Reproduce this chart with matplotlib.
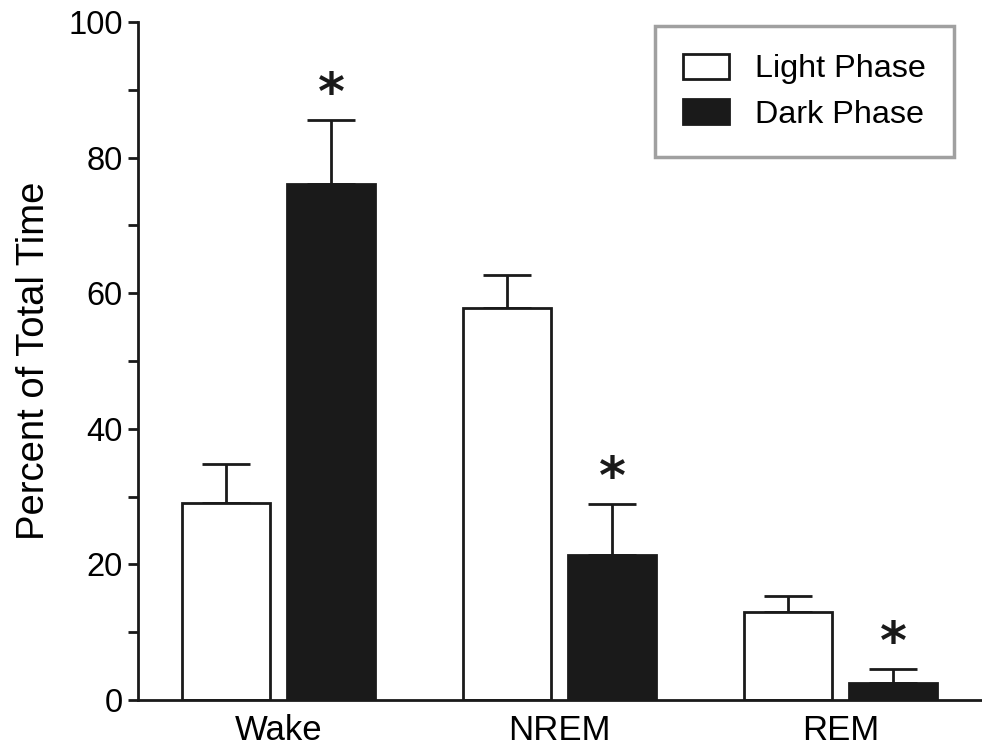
import matplotlib
matplotlib.use("Agg")
import matplotlib.pyplot as plt
import numpy as np
from matplotlib.patches import Patch

plt.rcParams['font.family'] = ['Liberation Sans', 'DejaVu Sans']

categories = ["Wake", "NREM", "REM"]
light_vals = [29.0, 57.8, 13.0]
light_err = [5.8, 4.9, 2.3]
dark_vals = [76.1, 21.4, 2.5]
dark_err = [9.4, 7.5, 2.1]
dark_sig = [True, True, True]

fig = plt.figure(figsize=(9.82, 7.49), dpi=100)
ax = fig.add_axes([138/982, 1-700/749, 843/982, (700-22)/749])

x = np.arange(len(categories))
w = 0.313
off = 0.188
lw = 2.0
ink = '#1a1a1a'
ax.bar(x - off, light_vals, w, color='white', edgecolor=ink, linewidth=lw, zorder=2)
ax.bar(x + off, dark_vals, w, color=ink, edgecolor=ink, linewidth=lw, zorder=2)
ax.errorbar(x - off, light_vals, yerr=[np.zeros(3), light_err], fmt='none',
            ecolor=ink, elinewidth=lw, capsize=17, capthick=lw, zorder=1)
ax.errorbar(x + off, dark_vals, yerr=[np.zeros(3), dark_err], fmt='none',
            ecolor=ink, elinewidth=lw, capsize=17, capthick=lw, zorder=1)

for xi, v, e, s in zip(x + off, dark_vals, dark_err, dark_sig):
    if s:
        ax.text(xi, v + e + 1.6, '*', ha='center', va='baseline', fontsize=37,
                color=ink, family='DejaVu Sans', fontweight='bold')

ax.set_xlim(-0.5, 2.5)
ax.set_ylim(0, 100)
ax.set_yticks([0, 20, 40, 60, 80, 100])
ax.set_yticks([10, 30, 50, 70, 90], minor=True)
ax.set_xticks(x)
ax.set_xticklabels(categories)
ax.tick_params(axis='y', which='major', length=7, width=lw, labelsize=23.5, pad=4, color=ink)
ax.tick_params(axis='y', which='minor', length=7, width=lw, color=ink)
ax.tick_params(axis='x', length=0, labelsize=25, pad=10)
ax.set_ylabel("Percent of Total Time", fontsize=27.5, labelpad=12)
for sp in ['top', 'right']:
    ax.spines[sp].set_visible(False)
for sp in ['left', 'bottom']:
    ax.spines[sp].set_linewidth(lw)
    ax.spines[sp].set_color(ink)

handles = [Patch(facecolor='white', edgecolor=ink, linewidth=lw, label='Light Phase'),
           Patch(facecolor=ink, edgecolor=ink, linewidth=lw, label='Dark Phase')]
leg = ax.legend(handles=handles, loc='upper left', bbox_to_anchor=((655-138)/843, (700-26)/678),
                fontsize=23.3, frameon=True, fancybox=False, handlelength=1.45, handleheight=0.83,
                borderpad=0.85, labelspacing=0.45, handletextpad=0.8, borderaxespad=0)
leg.get_frame().set_edgecolor('#888888')
leg.get_frame().set_linewidth(2.5)

fig.savefig("out.png", dpi=100)
